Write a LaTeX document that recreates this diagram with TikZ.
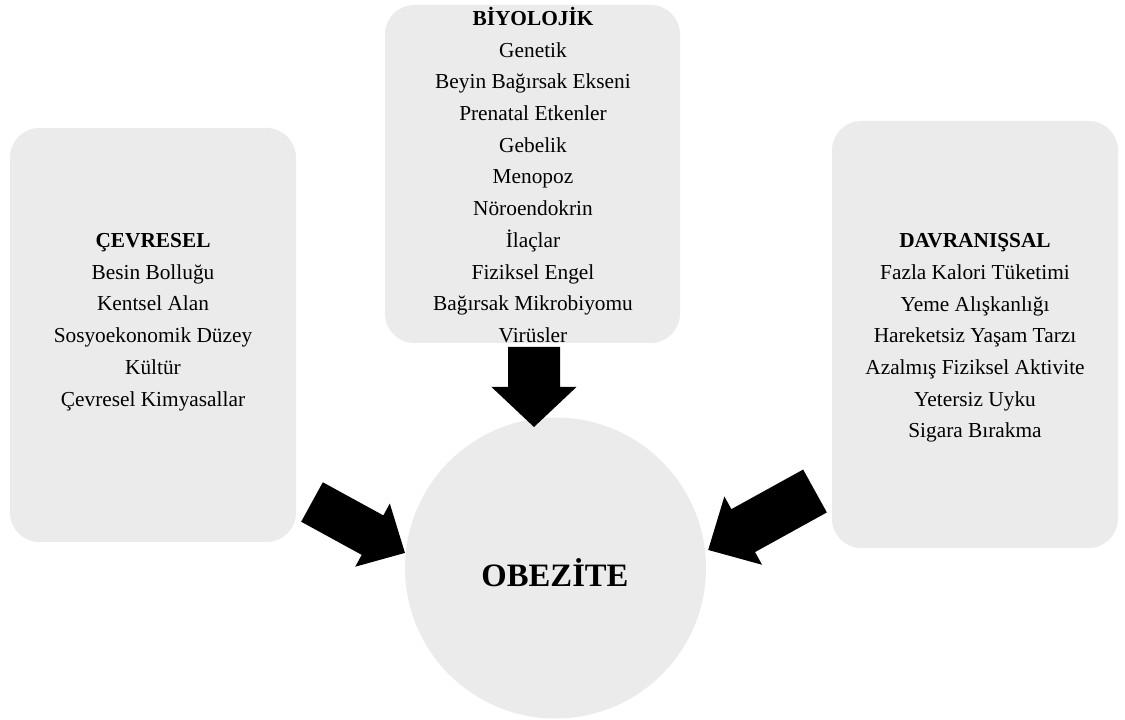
\documentclass[tikz,border=0pt]{standalone}
\usepackage{fontspec}
\setmainfont{Liberation Serif}
\usetikzlibrary{calc}
\definecolor{boxgray}{HTML}{EBEBEB}
\tikzset{
  factorbox/.style={fill=boxgray, rounded corners=22pt, draw=none, inner sep=0pt},
  factortext/.style={align=center, font=\fontsize{16}{23.8}\selectfont, inner sep=0pt},
  blockarr/.style={fill=black}
}
\newcommand\blockarrow[5]{% tail, angle, length, shaft width, head length; head width in \headw
  \fill[blockarr, shift={(#1)}, rotate=#2]
    (0,{-#4/2}) -- ({#3-#5},{-#4/2}) -- ({#3-#5},{-\headw/2}) -- (#3,0)
    -- ({#3-#5},{\headw/2}) -- ({#3-#5},{#4/2}) -- (0,{#4/2}) -- cycle;}
\begin{document}
\begin{tikzpicture}[x=0.75pt,y=0.75pt]
\useasboundingbox (0,0) rectangle (1125,720);
% boxes
\node[factorbox, minimum width=286*0.75pt, minimum height=414*0.75pt] (cev) at (153,385) {};
\node[factorbox, minimum width=295*0.75pt, minimum height=338*0.75pt] (biy) at (532.5,546) {};
\node[factorbox, minimum width=286*0.75pt, minimum height=427*0.75pt] (dav) at (975,385.5) {};
\node[circle, fill=boxgray, minimum size=301*0.75pt, inner sep=0pt] (obe) at (555.5,152) {};
% texts
\node[factortext] (cevt) at (153,398) {\textbf{ÇEVRESEL}\\Besin Bolluğu\\Kentsel Alan\\Sosyoekonomik Düzey\\Kültür\\Çevresel Kimyasallar};
\node[factortext] (biyt) at (533,545) {\textbf{BİYOLOJİK}\\Genetik\\Beyin Bağırsak Ekseni\\Prenatal Etkenler\\Gebelik\\Menopoz\\Nöroendokrin\\İlaçlar\\Fiziksel Engel\\Bağırsak Mikrobiyomu\\Virüsler};
\node[factortext] (davt) at (975,382) {\textbf{DAVRANIŞSAL}\\Fazla Kalori Tüketimi\\Yeme Alışkanlığı\\Hareketsiz Yaşam Tarzı\\Azalmış Fiziksel Aktivite\\Yetersiz Uyku\\Sigara Bırakma};
\node[font=\fontsize{24.5}{30}\selectfont\bfseries, inner sep=0pt] (obet) at (555,147) {OBEZİTE};
% block arrows
\coordinate (tailL) at (312,218);
\coordinate (tailB) at (534,373);
\coordinate (tailR) at (815,229);
\def\headw{72}\blockarrow{tailL}{-28.7}{106}{45}{37}
\def\headw{85}\blockarrow{tailB}{-90}{80}{52}{40}
\def\headw{78}\blockarrow{tailR}{208.9}{122}{49}{40}
\end{tikzpicture}
\end{document}
